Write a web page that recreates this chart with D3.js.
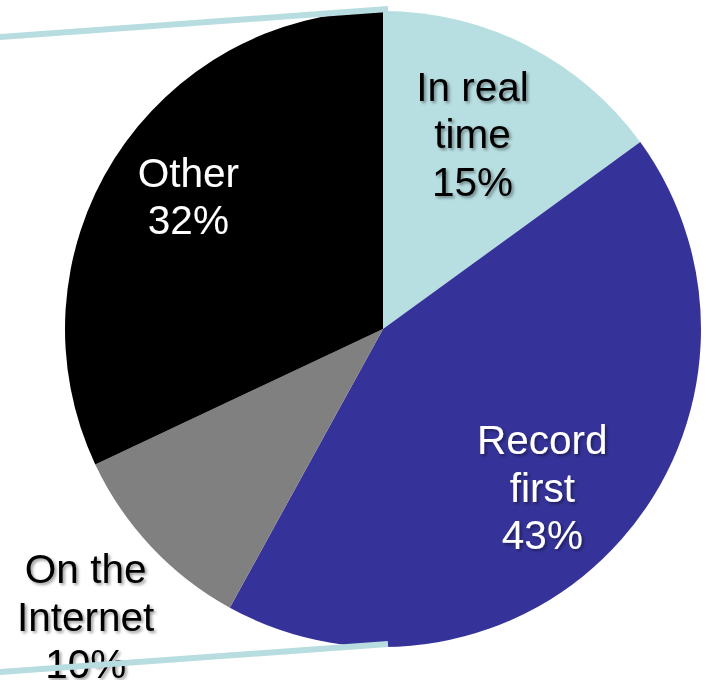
<!DOCTYPE html>
<html>
<head>
<meta charset="utf-8">
<script src="https://cdn.jsdelivr.net/npm/d3@7"></script>
<style>
  html, body { margin: 0; padding: 0; background: #ffffff; }
  svg { display: block; }
</style>
</head>
<body>
<svg id="chart" width="706" height="680"></svg>
<script>
// Share of viewing, by how the programme is watched
const categories = ["In real time", "Record first", "On the Internet", "Other"];
const labelLines = [["In real", "time"], ["Record", "first"], ["On the", "Internet"], ["Other"]];
const values = [15, 43, 10, 32];
const colors = ["#b7dee1", "#353399", "#808080", "#000000"];
const textColors = ["#000000", "#ffffff", "#000000", "#ffffff"];

const width = 706, height = 680;
const cx = 383, cy = 329, R = 318;
const fontSize = 40.5, lineGap = 47.5;

// small hand placement tweaks for each label block (px), applied after the centroid
const labelNudge = [[-13, 6], [-10, 9], [4, 4], [-4, -12]];

const svg = d3.select("#chart");

const defs = svg.append("defs");
const shadow = defs.append("filter").attr("id", "txtShadow")
  .attr("x", "-20%").attr("y", "-20%").attr("width", "140%").attr("height", "140%");
shadow.append("feDropShadow")
  .attr("dx", 2).attr("dy", 2).attr("stdDeviation", 1.4)
  .attr("flood-color", "#000").attr("flood-opacity", 0.4);

const data = categories.map((c, i) => ({ name: c, value: values[i], idx: i }));

const pie = d3.pie().value(d => d.value).sort(null);
const arcs = pie(data);

const arc = d3.arc().innerRadius(0).outerRadius(R);
const g = svg.append("g").attr("transform", `translate(${cx},${cy})`);

g.selectAll("path.slice")
  .data(arcs)
  .join("path")
  .attr("class", "slice")
  .attr("d", arc)
  .attr("fill", d => colors[d.data.idx]);

// labels: inside slices, except the small slice which sits outside
const labelArcIn = d3.arc().innerRadius(R * 0.71).outerRadius(R * 0.71);
const labelArcOut = d3.arc().innerRadius(R * 1.3).outerRadius(R * 1.3);

g.selectAll("text.lbl")
  .data(arcs)
  .join("text")
  .attr("class", "lbl")
  .attr("filter", "url(#txtShadow)")
  .attr("font-family", "'Liberation Sans', Arial, sans-serif")
  .attr("font-size", fontSize)
  .attr("text-anchor", "middle")
  .attr("fill", d => textColors[d.data.idx])
  .each(function(d) {
    const lines = labelLines[d.data.idx].concat([d.data.value + "%"]);
    const c = (d.data.idx === 2 ? labelArcOut : labelArcIn).centroid(d);
    const x = c[0] + labelNudge[d.data.idx][0];
    const y = c[1] + labelNudge[d.data.idx][1];
    const n = lines.length;
    const first = y - (n - 1) * lineGap / 2 + fontSize * 0.36;
    d3.select(this).selectAll("tspan")
      .data(lines)
      .join("tspan")
      .attr("x", x)
      .attr("y", (t, i) => first + i * lineGap)
      .text(t => t);
  });

// connector strokes leading off the left edge
const connectors = [
  [[0, 37], [388, 9]],
  [[0, 672], [388, 644]]
];
svg.selectAll("line.conn")
  .data(connectors)
  .join("line")
  .attr("class", "conn")
  .attr("x1", d => d[0][0]).attr("y1", d => d[0][1])
  .attr("x2", d => d[1][0]).attr("y2", d => d[1][1])
  .attr("stroke", "#b7dde0")
  .attr("stroke-width", 6);
</script>
</body>
</html>
